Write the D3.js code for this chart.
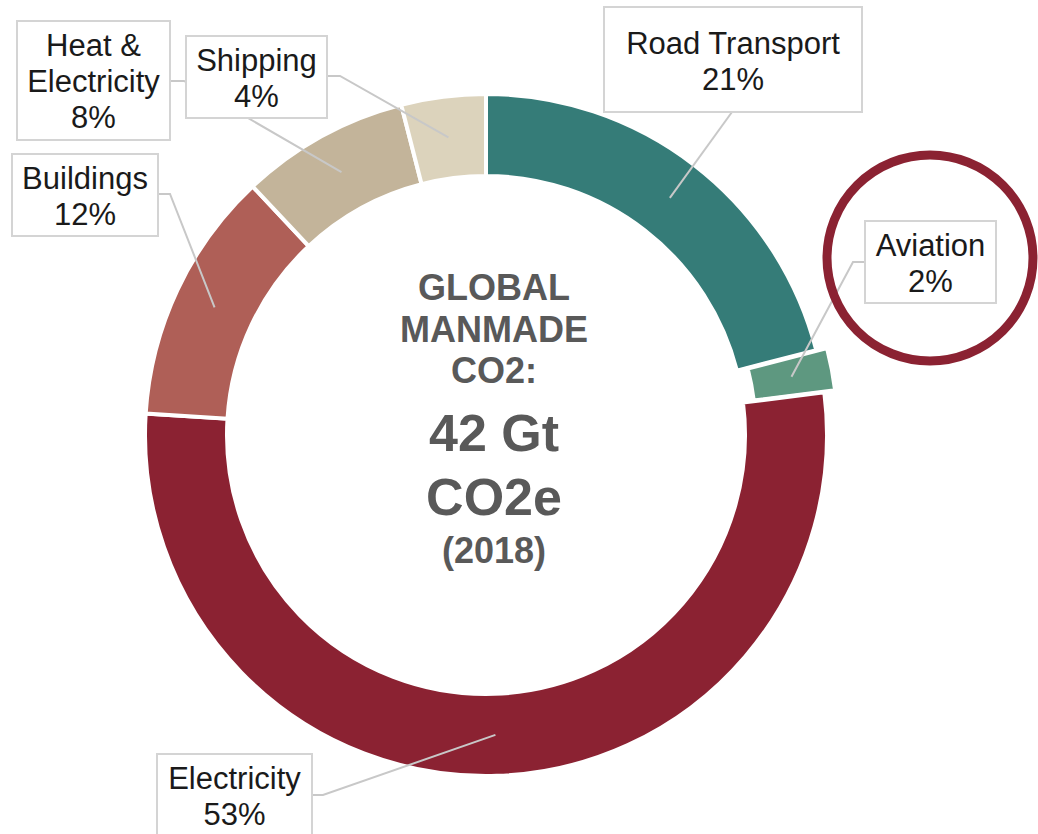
<!DOCTYPE html>
<html>
<head>
<meta charset="utf-8">
<script src="https://cdn.jsdelivr.net/npm/d3@7"></script>
<style>
  body { margin: 0; background: #fff; }
  #chart { width: 1038px; height: 834px; }
  text { font-family: "Liberation Sans", Arial, sans-serif; }
</style>
</head>
<body>
<div id="chart"></div>
<script>
// Datos
const sectors = ["Road Transport", "Aviation", "Electricity", "Buildings", "Heat & Electricity", "Shipping"];
const shares = [21, 2, 53, 12, 8, 4];
const labelLines = [["Road Transport"], ["Aviation"], ["Electricity"], ["Buildings"], ["Heat &", "Electricity"], ["Shipping"]];
const centerLines = ["GLOBAL", "MANMADE", "CO2:", "42 Gt", "CO2e", "(2018)"];

const colors = ["#357c78", "#5e9880", "#8b2232", "#af5f57", "#c3b49a", "#dcd3bc"];

// Cajas de etiquetas y guías
const boxes = [
    { x: 604, y: 7, w: 258, h: 105, base: 54, from: [732, 112], elbow: null },
    { x: 865, y: 221, w: 131, h: 82, base: 256, from: [865, 262], elbow: [853, 262] },
    { x: 157, y: 754, w: 155, h: 100, base: 789, from: [312, 795], elbow: [323, 795] },
    { x: 12, y: 154, w: 146, h: 82, base: 189, from: [158, 194], elbow: [170, 194] },
    { x: 17, y: 21, w: 153, h: 119, base: 56, from: [170, 81], elbow: [184, 81] },
    { x: 186, y: 36, w: 141, h: 82, base: 71, from: [327, 76], elbow: [340, 76] }
];

let width = 1038;
let height = 834;
let cx = 486, cy = 435;
let outerR = 341, innerR = 259;

let svg = d3.select("#chart").append("svg")
    .attr("width", width)
    .attr("height", height);

let pie = d3.pie().sort(null).value(d => d);
let arcs = pie(shares);

let arc = d3.arc().innerRadius(innerR).outerRadius(outerR);

let g = svg.append("g").attr("transform", "translate(" + cx + "," + cy + ")");

// offset del sector de aviación
function offset(d, i) {
    if (i !== 1) return [0, 0];
    let a = (d.startAngle + d.endAngle) / 2;
    return [Math.sin(a) * 11, -Math.cos(a) * 11];
}

g.selectAll("path.slice")
    .data(arcs)
    .enter()
    .append("path")
    .attr("class", "slice")
    .attr("d", arc)
    .attr("transform", (d, i) => "translate(" + offset(d, i) + ")")
    .attr("fill", (d, i) => colors[i])
    .style("stroke", "#fff")
    .style("stroke-width", 4);

// Guías
svg.append("g")
    .selectAll("polyline")
    .data(arcs)
    .enter()
    .append("polyline")
    .attr("points", function(d, i) {
        let c = arc.centroid(d);
        let o = offset(d, i);
        let end = [cx + c[0] + o[0], cy + c[1] + o[1]];
        let b = boxes[i];
        let pts = [b.from];
        if (b.elbow) pts.push(b.elbow);
        pts.push(end);
        return pts.map(p => p.join(",")).join(" ");
    })
    .attr("fill", "none")
    .style("stroke", "#c8c8c8")
    .style("stroke-width", 2);

// Cajas
let lab = svg.append("g")
    .selectAll("g")
    .data(arcs)
    .enter()
    .append("g");

lab.append("rect")
    .attr("x", (d, i) => boxes[i].x)
    .attr("y", (d, i) => boxes[i].y)
    .attr("width", (d, i) => boxes[i].w)
    .attr("height", (d, i) => boxes[i].h)
    .attr("fill", "#fff")
    .style("stroke", "#d4d4d4")
    .style("stroke-width", 2);

lab.each(function(d, i) {
    let lines = labelLines[i].concat([shares[i] + "%"]);
    let b = boxes[i];
    d3.select(this).selectAll("text")
        .data(lines)
        .enter()
        .append("text")
        .attr("x", b.x + b.w / 2)
        .attr("y", (t, j) => b.base + j * 36)
        .attr("text-anchor", "middle")
        .attr("font-size", 31)
        .attr("fill", "#1a1a1a")
        .text(t => t);
});

// Círculo resaltado
svg.append("circle")
    .attr("cx", 930)
    .attr("cy", 258)
    .attr("r", 103)
    .attr("fill", "none")
    .style("stroke", "#8b2232")
    .style("stroke-width", 9);

// Texto central
const centerSize = [36, 36, 36, 52, 52, 36];
const centerY = [300, 342, 383, 451, 515, 563];

svg.append("g")
    .selectAll("text")
    .data(centerLines)
    .enter()
    .append("text")
    .attr("x", cx + 8)
    .attr("y", (d, i) => centerY[i])
    .attr("text-anchor", "middle")
    .attr("font-size", (d, i) => centerSize[i])
    .attr("font-weight", "bold")
    .attr("fill", "#595959")
    .text(d => d);
</script>
</body>
</html>
